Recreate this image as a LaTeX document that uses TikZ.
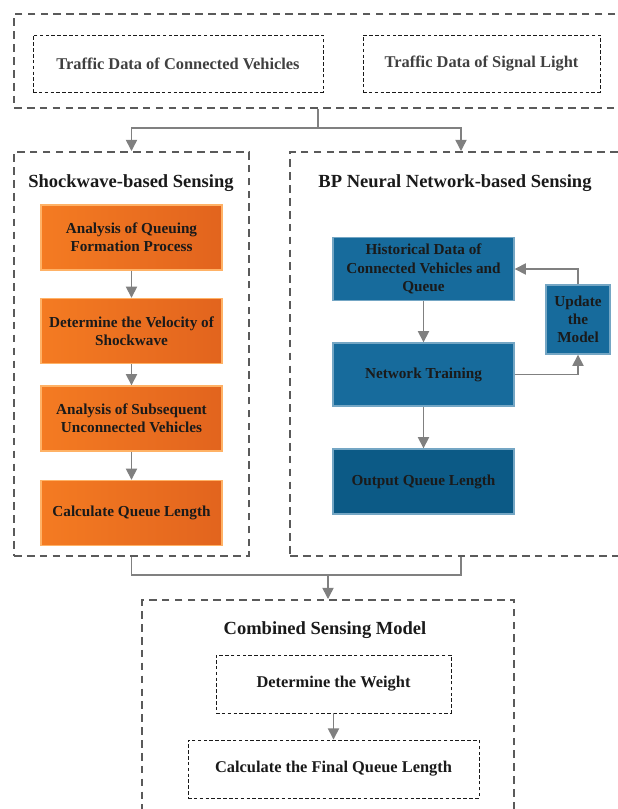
\documentclass[tikz,border=0pt]{standalone}
\usepackage{fontspec}
\setmainfont{Liberation Serif}
\usetikzlibrary{arrows.meta, positioning, calc}
\definecolor{corange}{HTML}{F47B22}
\definecolor{corangedk}{HTML}{E2641E}
\definecolor{cblue}{HTML}{176B9C}
\definecolor{cbluedk}{HTML}{0C5A86}
\definecolor{cgrey}{HTML}{808080}
\definecolor{cdash}{HTML}{5A5A5A}
\definecolor{ctext}{HTML}{1A1A1A}
\tikzset{
  every picture/.style={font=\bfseries, line width=1.2pt},
  group/.style={draw=cdash, dash pattern=on 6.5pt off 4.5pt, line width=1.7pt, minimum width=#1},
  dbox/.style={draw=ctext, dash pattern=on 3pt off 2pt, line width=0.8pt, align=center, minimum height=1.74cm,
    minimum width=#1, font=\bfseries\fontsize{14}{16}\selectfont},
  obox/.style={draw=orange!60, left color=corange, right color=corangedk, text=ctext, align=center,
    minimum width=5.43cm, minimum height=1.95cm, font=\bfseries\fontsize{13}{15.5}\selectfont},
  bbox/.style={draw=cblue!60, fill=#1, text=ctext, align=center,
    minimum width=5.43cm, minimum height=1.89cm, font=\bfseries\fontsize{13}{15.5}\selectfont},
  bbox/.default=cblue,
  title/.style={font=\bfseries\fontsize{15.8}{18}\selectfont, text=ctext},
  line/.style={draw=cgrey, line width=1.3pt},
  arrow/.style={line, -{Triangle[length=9.5pt, width=9.5pt]}},
}

\begin{document}
\begin{tikzpicture}
  \useasboundingbox (0,0) rectangle (18.54,-24.27);
  % ---------- input data ----------
  \node[group=18.24cm, minimum height=2.82cm] (top) at (9.54,-1.83) {};
  \node[dbox=8.7cm, minimum height=1.71cm, text=black!75] (tcv) at (5.34,-1.905) {Traffic Data of Connected Vehicles};
  \node[dbox=7.11cm, minimum height=1.71cm, text=black!75] (tsl) at (14.445,-1.905) {Traffic Data of Signal Light};
  % ---------- shockwave ----------
  \node[group=7.05cm, minimum height=12.12cm] (lgroup) at (3.945,-10.62) {};
  \node[title] (ltitle) at (3.93,-5.49) {Shockwave-based Sensing};
  \node[obox] (queue) at (3.945,-7.125) {Analysis of Queuing\\Formation Process};
  \node[obox] (velo) at (3.945,-9.93) {Determine the Velocity of\\Shockwave};
  \node[obox] (subs) at (3.945,-12.555) {Analysis of Subsequent\\Unconnected Vehicles};
  \node[obox] (calc) at (3.945,-15.39) {Calculate Queue Length};
  \draw[arrow] (queue) -- (velo);
  \draw[arrow] (velo) -- (subs);
  \draw[arrow] (subs) -- (calc);
  % ---------- BP neural network ----------
  \node[group=10.26cm, minimum height=12.12cm] (rgroup) at (13.83,-10.62) {};
  \node[title] (rtitle) at (13.65,-5.49) {BP Neural Network-based Sensing};
  \node[bbox] (hist) at (12.705,-8.07) {Historical Data of\\Connected Vehicles and\\Queue};
  \node[bbox] (train) at (12.705,-11.235) {Network Training};
  \node[bbox=cbluedk, minimum height=1.95cm] (out) at (12.705,-14.445) {Output Queue Length};
  \node[bbox, minimum width=1.92cm, minimum height=2.07cm, inner sep=2pt] (upd) at (17.34,-9.585) {Update\\the\\Model};
  \draw[arrow] (hist) -- (train);
  \draw[arrow] (train) -- (out);
  \draw[arrow] (train.east) -| (upd.south);
  \draw[arrow] (upd.north) |- (hist.east);
  % ---------- combined ----------
  \node[group=11.16cm, minimum height=7.5cm] (bgroup) at (9.84,-21.75) {};
  \node[title] (btitle) at (9.75,-18.9) {Combined Sensing Model};
  \node[dbox=7.05cm, text=ctext] (weight) at (10.005,-20.52) {Determine the Weight};
  \node[dbox=8.73cm, text=ctext] (final) at (10.005,-23.07) {Calculate the Final Queue Length};
  \draw[arrow] (weight) -- (final);
  % ---------- links between groups ----------
  \coordinate (tj) at ($(top.south)+(0,-0.57)$);
  \coordinate (bj) at (bgroup.north |- 0,-17.25);
  \draw[line] (top.south) -- (tj);
  \draw[arrow] (tj) -| (lgroup.north);
  \draw[arrow] (tj) -| (rgroup.north);
  \draw[line] (lgroup.south) |- (bj);
  \draw[line] (rgroup.south) |- (bj);
  \draw[arrow] (bj) -- (bgroup.north);
\end{tikzpicture}
\end{document}
